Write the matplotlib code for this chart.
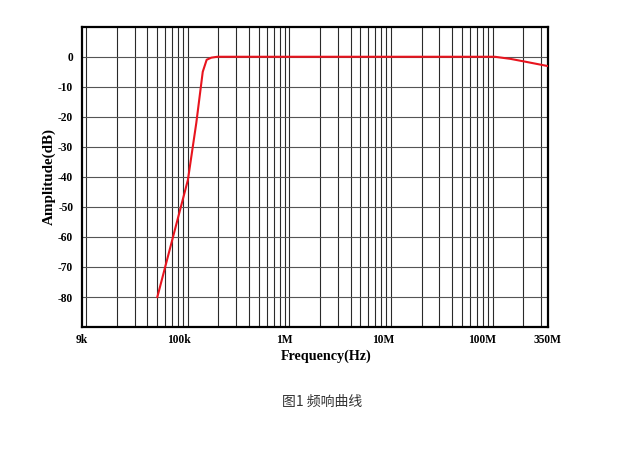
import numpy as np
import matplotlib.pyplot as plt
from matplotlib.transforms import ScaledTranslation

# frequency response data (Hz, dB)
freq = [50e3, 100e3, 121e3, 140e3, 153e3, 170e3, 195e3, 1e6, 10e6, 105e6, 150e6, 200e6, 350e6]
amp = [-80, -41, -22, -5, -1.0, -0.3, 0, 0, 0, 0, -0.7, -1.5, -3.1]

xtick_pos = [9e3, 1e5, 1e6, 1e7, 1e8, 3.5e8]
xtick_lab = ["9k", "100k", "1M", "10M", "100M", "350M"]
ytick_pos = [0, -10, -20, -30, -40, -50, -60, -70, -80]

serif = "Liberation Serif"

fig = plt.figure(figsize=(6.19, 4.53), dpi=100)
ax = fig.add_axes([0.132, 0.278, 0.753, 0.663])

ax.set_xscale("log")
ax.set_xlim(9e3, 3.5e8)
ax.set_ylim(-90, 10)

# grid: decades + minor lines, 10 dB steps
for d in [1e4, 1e5, 1e6, 1e7, 1e8]:
    for m in range(1, 10):
        f = d*m
        if 9e3 < f < 3.5e8:
            ax.axvline(f, color="#2a2a2a", lw=0.8, zorder=1)
for y in range(-80, 10, 10):
    ax.axhline(y, color="#555555", lw=0.8, zorder=1)

ax.plot(freq, amp, color="#e8141e", lw=1.5, zorder=3)

ax.set_xticks(xtick_pos)
ax.set_xticklabels(xtick_lab)
ax.xaxis.set_minor_locator(plt.NullLocator())
ax.set_yticks(ytick_pos)
ax.set_yticklabels([str(v) for v in ytick_pos])
ax.tick_params(length=0, pad=6)
ax.tick_params(axis="x", pad=5)
for lab in ax.get_xticklabels() + ax.get_yticklabels():
    lab.set_family(serif)
    lab.set_fontweight("bold")
    lab.set_fontsize(8.3)
for lab in ax.get_xticklabels()[1:5]:
    lab.set_ha("right")
    lab.set_transform(lab.get_transform() + ScaledTranslation(3/100, 0, fig.dpi_scale_trans))

for s in ax.spines.values():
    s.set_linewidth(1.6)
    s.set_color("black")

ax.set_xlabel("Frequency(Hz)", family=serif, fontweight="bold", fontsize=10.2, va="center")
ax.xaxis.set_label_coords(0.524, -0.097)
ax.set_ylabel("Amplitude(dB)", family=serif, fontweight="bold", fontsize=10.9, va="center")
ax.yaxis.set_label_coords(-0.069, 0.502)

fig.text(0.52, (453-402)/453, "图1 频响曲线", ha="center", va="center",
         family=["Noto Sans CJK SC", "DejaVu Sans"], fontsize=10, color="#333333")

fig.savefig("out.png", dpi=100)
